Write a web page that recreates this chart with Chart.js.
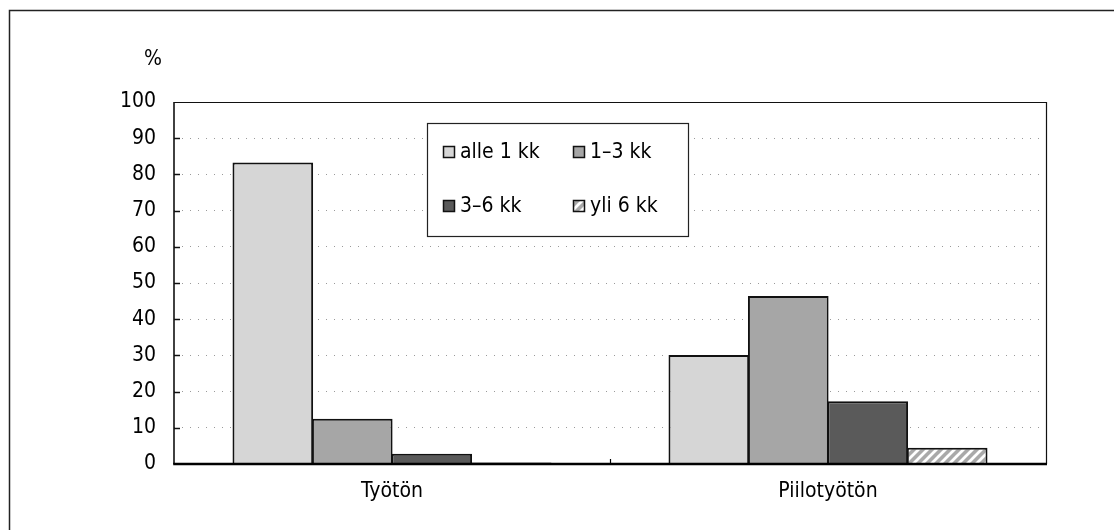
<!DOCTYPE html>
<html>
<head>
<meta charset="utf-8">
<script src="https://cdn.jsdelivr.net/npm/chart.js@4.4.1/dist/chart.umd.min.js"></script>
<style>
  html, body { margin: 0; padding: 0; background: #fff; }
  #wrap { position: relative; width: 1114px; height: 530px; overflow: hidden; }
</style>
</head>
<body>
<div id="wrap"><canvas id="c" width="1114" height="530"></canvas></div>
<script>
// ---- data ----
const categories = ['Työtön', 'Piilotyötön'];
const seriesLabels = ['alle 1 kk', '1–3 kk', '3–6 kk', 'yli 6 kk'];
const alle1kk = [83.3, 30.1];
const kk1to3 = [12.5, 46.4];
const kk3to6 = [2.8, 17.3];
const yli6kk = [0.4, 4.5];
const yTicks = [0, 10, 20, 30, 40, 50, 60, 70, 80, 90, 100];
const yUnit = '%';

const FONT = "'Liberation Sans Narrow', 'DejaVu Sans Condensed', 'Roboto', sans-serif";

const hatchPattern = (function(){
  const p = document.createElement('canvas');
  p.width = 9; p.height = 9;
  const g = p.getContext('2d');
  g.fillStyle = '#a9a9a9';
  g.fillRect(0, 0, 9, 9);
  g.strokeStyle = '#ffffff';
  g.lineWidth = 2.8;
  g.beginPath();
  g.moveTo(-2, 11); g.lineTo(11, -2);
  g.moveTo(-7, 7); g.lineTo(7, -7);
  g.moveTo(2, 16); g.lineTo(16, 2);
  g.stroke();
  return document.getElementById('c').getContext('2d').createPattern(p, 'repeat');
})();

const fills = ['#d6d6d6', '#a6a6a6', '#5a5a5a', hatchPattern];
const seriesValues = [alle1kk, kk1to3, kk3to6, yli6kk];

const datasets = seriesLabels.map((lab, i) => ({
  label: lab,
  data: seriesValues[i],
  backgroundColor: fills[i],
  borderColor: '#111',
  borderWidth: 2,
  borderSkipped: 'bottom',
  categoryPercentage: 0.729,
  barPercentage: 1.015
}));

const decor = {
  id: 'decor',
  beforeDraw(chart) {
    const ctx = chart.ctx;
    ctx.save();
    ctx.strokeStyle = '#222';
    ctx.lineWidth = 1.5;
    ctx.beginPath();
    ctx.moveTo(9.5, 531);
    ctx.lineTo(9.5, 10.5);
    ctx.lineTo(1115, 10.5);
    ctx.stroke();
    ctx.restore();
  },
  afterDatasetsDraw(chart) {
    const ctx = chart.ctx;
    const a = chart.chartArea;
    const ys = chart.scales.y;
    const xs = chart.scales.x;
    ctx.save();
    ctx.strokeStyle = '#111';
    ctx.lineWidth = 1.2;
    ctx.beginPath();
    ctx.moveTo(a.left, a.top + 0.5);
    ctx.lineTo(a.right + 0.5, a.top + 0.5);
    ctx.lineTo(a.right + 0.5, a.bottom);
    ctx.stroke();
    ctx.lineWidth = 1.6;
    ctx.beginPath();
    ctx.moveTo(a.left, a.top);
    ctx.lineTo(a.left, a.bottom);
    ctx.stroke();
    ctx.lineWidth = 1.5;
    yTicks.forEach(v => {
      if (v === 0 || v === 100) return;
      const y = Math.round(ys.getPixelForValue(v)) + 0.5;
      ctx.beginPath();
      ctx.moveTo(a.left, y);
      ctx.lineTo(a.left + 6, y);
      ctx.stroke();
    });
    ctx.lineWidth = 2.5;
    ctx.strokeStyle = '#000';
    ctx.beginPath();
    ctx.moveTo(a.left - 0.8, a.bottom);
    ctx.lineTo(a.right + 1, a.bottom);
    ctx.stroke();
    ctx.lineWidth = 1.2;
    for (let i = 1; i < categories.length; i++) {
      const xm = Math.round((xs.getPixelForValue(i - 1) + xs.getPixelForValue(i)) / 2) + 0.5;
      ctx.beginPath();
      ctx.moveTo(xm, a.bottom);
      ctx.lineTo(xm, a.bottom - 5);
      ctx.stroke();
    }
    ctx.fillStyle = '#000';
    ctx.font = '21px ' + FONT;
    ctx.textAlign = 'center';
    ctx.textBaseline = 'middle';
    ctx.fillText(yUnit, 153, 60);

    const lx = 427.5, ly = 123.5, lw = 261, lh = 113;
    ctx.fillStyle = '#fff';
    ctx.fillRect(lx, ly, lw, lh);
    ctx.strokeStyle = '#222';
    ctx.lineWidth = 1.2;
    ctx.strokeRect(lx, ly, lw, lh);
    const cols = [443, 573];
    const rows = [152, 206];
    chart.data.datasets.forEach((ds, i) => {
      const cx = cols[i % 2], cy = rows[Math.floor(i / 2)];
      ctx.fillStyle = ds.backgroundColor;
      ctx.fillRect(cx, cy - 6, 12, 12);
      ctx.strokeStyle = '#111';
      ctx.lineWidth = 1.5;
      ctx.strokeRect(cx + 0.5, cy - 5.5, 11, 11);
      ctx.fillStyle = '#000';
      ctx.font = '21px ' + FONT;
      ctx.textAlign = 'left';
      ctx.textBaseline = 'middle';
      ctx.fillText(ds.label, cx + 17, cy + 1);
    });
    ctx.restore();
  }
};

new Chart(document.getElementById('c'), {
  type: 'bar',
  data: { labels: categories, datasets },
  options: {
    responsive: false,
    devicePixelRatio: 1,
    animation: false,
    layout: { padding: { top: 102, right: 68, left: 0, bottom: 0 } },
    plugins: { legend: { display: false }, tooltip: { enabled: false }, title: { display: false } },
    scales: {
      x: {
        grid: { display: false, drawTicks: false },
        border: { display: false },
        ticks: { color: '#000', font: { family: FONT, size: 21 }, padding: 15, maxRotation: 0 },
        afterFit(s) { s.height = 66; s.paddingLeft = 0; s.paddingRight = 0; }
      },
      y: {
        min: 0, max: 100,
        afterBuildTicks(s) { s.ticks = yTicks.map(v => ({ value: v })); },
        grid: {
          drawTicks: false,
          color: (c) => (c.tick && (c.tick.value === 0 || c.tick.value === 100)) ? 'rgba(0,0,0,0)' : '#9a9a9a',
          lineWidth: 1
        },
        border: { display: false, dash: [1, 7] },
        ticks: { color: '#000', font: { family: FONT, size: 21 }, padding: 18 },
        afterFit(s) { s.width = 174; s.paddingTop = 0; s.paddingBottom = 0; }
      }
    }
  },
  plugins: [decor]
});
</script>
</body>
</html>
